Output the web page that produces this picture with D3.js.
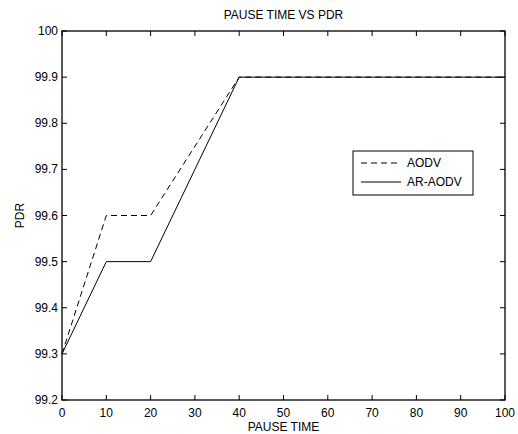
<!DOCTYPE html>
<html><head><meta charset="utf-8">
<script src="https://cdn.jsdelivr.net/npm/d3@7"></script>
<style>body{margin:0;background:#fff}svg{display:block}text{font-family:"Liberation Sans",Arial,sans-serif;fill:#000}</style>
</head><body>
<script>
const pauseTime = [0, 10, 20, 40, 100];
const aodv = [99.3, 99.6, 99.6, 99.9, 99.9];
const arAodv = [99.3, 99.5, 99.5, 99.9, 99.9];
const xTicks = [0,10,20,30,40,50,60,70,80,90,100];
const yTicks = [99.2,99.3,99.4,99.5,99.6,99.7,99.8,99.9,100];
const seriesNames = ["AODV", "AR-AODV"];

const W = 518, H = 434;
const m = {l: 62, r: 13, t: 31, b: 34};
const svg = d3.select("body").append("svg").attr("width", W).attr("height", H);
const x = d3.scaleLinear().domain([0,100]).range([m.l, W - m.r]);
const y = d3.scaleLinear().domain([99.2,100]).range([H - m.b, m.t]);
const fs = 12, tl = 5;

// box
svg.append("rect").attr("x", x(0)).attr("y", y(100)).attr("width", x(100)-x(0)).attr("height", y(99.2)-y(100))
  .attr("fill","none").attr("stroke","#000").attr("stroke-width",1.3);

// ticks inward on all sides
const g = svg.append("g").attr("stroke","#000").attr("stroke-width",1);
xTicks.forEach(v => {
  g.append("line").attr("x1",x(v)).attr("x2",x(v)).attr("y1",y(99.2)).attr("y2",y(99.2)-tl);
  g.append("line").attr("x1",x(v)).attr("x2",x(v)).attr("y1",y(100)).attr("y2",y(100)+tl);
});
yTicks.forEach(v => {
  g.append("line").attr("x1",x(0)).attr("x2",x(0)+tl).attr("y1",y(v)).attr("y2",y(v));
  g.append("line").attr("x1",x(100)).attr("x2",x(100)-tl).attr("y1",y(v)).attr("y2",y(v));
});
svg.selectAll(".xt").data(xTicks).enter().append("text")
  .attr("x", d => x(d)).attr("y", y(99.2) + 17).attr("text-anchor","middle").attr("font-size",fs).text(d => d);
svg.selectAll(".yt").data(yTicks).enter().append("text")
  .attr("x", x(0) - 4).attr("y", d => y(d) + 4).attr("text-anchor","end").attr("font-size",fs)
  .text(d => d3.format(".1f")(d).replace(/\.0$/,""));

const line = d3.line().x((d,i) => x(pauseTime[i])).y(d => y(d));
svg.append("path").datum(aodv).attr("d", line).attr("fill","none").attr("stroke","#000").attr("stroke-width",1).attr("stroke-dasharray","6,4");
svg.append("path").datum(arAodv).attr("d", line).attr("fill","none").attr("stroke","#000").attr("stroke-width",1);

// title & labels
svg.append("text").attr("x",(x(0)+x(100))/2).attr("y",19).attr("text-anchor","middle").attr("font-size",fs).text("PAUSE TIME VS PDR");
svg.append("text").attr("x",(x(0)+x(100))/2).attr("y",431).attr("text-anchor","middle").attr("font-size",fs).text("PAUSE TIME");
svg.append("text").attr("transform",`translate(24,${(y(99.2)+y(100))/2}) rotate(-90)`).attr("text-anchor","middle").attr("font-size",fs).text("PDR");

// legend
const lg = svg.append("g");
lg.append("rect").attr("x",353).attr("y",151).attr("width",120).attr("height",44).attr("fill","#fff").attr("stroke","#000").attr("stroke-width",1);
const dashes = ["6,4", null];
seriesNames.forEach((n,i) => {
  const yy = 163 + i*19;
  lg.append("line").attr("x1",361).attr("x2",401).attr("y1",yy).attr("y2",yy).attr("stroke","#000").attr("stroke-width",1).attr("stroke-dasharray",dashes[i]);
  lg.append("text").attr("x",407).attr("y",yy+4).attr("font-size",fs).text(n);
});
</script>
</body></html>
